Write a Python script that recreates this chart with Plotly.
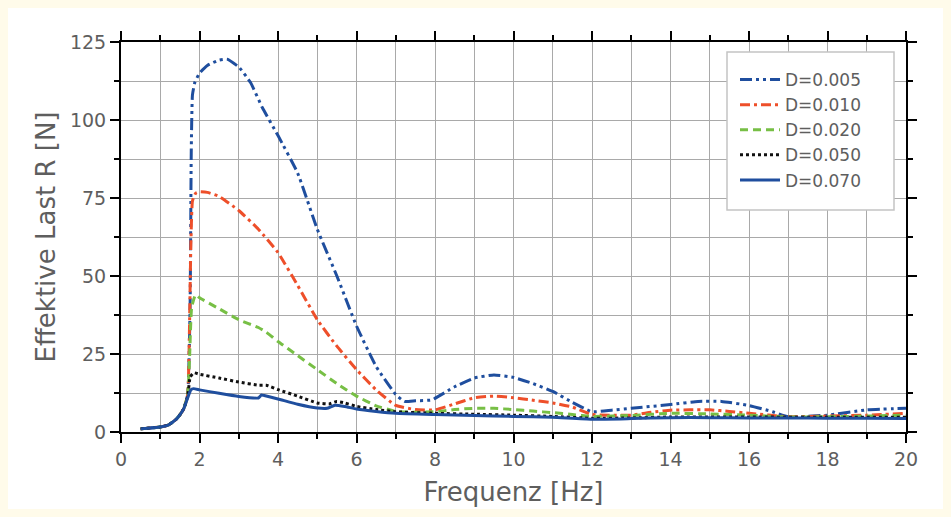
import plotly.graph_objects as go

# ---- data ----
x_005 = [0.5, 1.0, 1.2, 1.4, 1.5, 1.6, 1.7, 1.76, 1.79, 1.82, 1.88, 2.0, 2.2, 2.5, 2.7, 3.0, 3.3, 3.6, 4.0, 4.5,
         5.0, 5.5, 6.0, 6.5, 7.0, 7.22, 7.5, 7.92, 8.5, 9.0, 9.5, 10.0, 10.5, 11.0, 11.5, 12.0, 12.5, 13.0,
         14.0, 14.7, 15.3, 16.0, 16.6, 17.0, 18.0, 19.0, 20.0]
y_005 = [1.0, 1.6, 2.2, 4.0, 5.5, 7.5, 12, 40, 90, 108, 112, 115, 117.5, 119.2, 119.5, 117, 112, 104, 95, 83,
         65, 50, 34, 21, 12, 9.8, 10, 10.3, 14.5, 17.3, 18.3, 17.5, 15.5, 13, 9.5, 6.5, 7, 7.6,
         8.8, 9.8, 9.8, 8.5, 6.5, 4.9, 5.4, 7.1, 7.6]

x_010 = [0.5, 1.0, 1.2, 1.4, 1.5, 1.6, 1.7, 1.74, 1.78, 1.82, 1.9, 2.0, 2.2, 2.5, 3.0, 3.5, 4.0, 4.5, 5.0, 5.5,
         6.0, 6.5, 7.0, 7.5, 8.0, 8.5, 9.0, 9.5, 10.0, 10.5, 11.0, 11.5, 12.0, 13.0, 13.5, 14.0, 14.5, 15.0,
         15.5, 16.0, 17.0, 18.0, 19.0, 20.0]
y_010 = [1.0, 1.6, 2.2, 4.0, 5.5, 7.5, 12, 30, 60, 74, 76.5, 77, 76.8, 75.5, 71, 65, 57.5, 47, 36, 27.5,
         20, 13.5, 8.5, 7.2, 7.1, 9.0, 11.0, 11.5, 11.0, 10.2, 9.3, 8.0, 5.6, 5.4, 6.3, 7.0, 7.1, 7.1,
         6.6, 6.0, 4.9, 5.1, 5.4, 6.0]

x_020 = [0.5, 1.0, 1.2, 1.4, 1.5, 1.6, 1.7, 1.75, 1.8, 1.9, 2.0, 2.5, 3.0, 3.5, 3.7, 4.0, 4.5, 5.0, 5.5, 6.0,
         6.5, 7.0, 7.5, 8.0, 8.5, 9.0, 9.5, 10.0, 10.5, 11.0, 11.5, 12.0, 13.0, 14.0, 15.0, 16.0, 17.0, 18.0,
         19.0, 20.0]
y_020 = [1.0, 1.6, 2.2, 4.0, 5.5, 7.5, 12, 25, 40, 44, 43, 39.5, 36.0, 33.5, 32.0, 29.0, 24.5, 20.0, 15.5, 11.5,
         8.4, 6.6, 6.3, 6.5, 7.2, 7.6, 7.6, 7.2, 6.7, 6.2, 5.6, 5.0, 5.3, 6.0, 5.8, 5.4, 4.8, 4.9,
         5.1, 5.4]

x_050 = [0.5, 1.0, 1.2, 1.4, 1.5, 1.6, 1.7, 1.76, 1.85, 2.0, 2.5, 3.0, 3.5, 3.7, 4.0, 4.5, 5.0, 5.3, 5.5, 5.7,
         6.0, 6.5, 7.0, 8.0, 9.0, 10.0, 11.0, 12.0, 13.0, 14.0, 16.0, 18.0, 20.0]
y_050 = [1.0, 1.6, 2.2, 4.0, 5.5, 7.5, 11.5, 17.5, 19.0, 18.5, 17.3, 16.0, 15.0, 15.0, 13.6, 11.5, 9.3, 9.0, 9.8, 9.3,
         8.2, 7.2, 6.5, 6.0, 5.7, 5.4, 5.0, 4.4, 4.5, 4.8, 4.8, 4.7, 4.7]

x_070 = [0.5, 1.0, 1.2, 1.4, 1.5, 1.6, 1.7, 1.78, 1.85, 2.0, 2.5, 3.0, 3.5, 3.58, 3.65, 4.0, 4.5, 5.0, 5.25, 5.45,
         5.7, 6.0, 6.5, 7.0, 8.0, 9.0, 10.0, 11.0, 12.0, 13.0, 14.0, 15.0, 16.0, 17.0, 18.0, 19.0, 20.0]
y_070 = [1.0, 1.6, 2.2, 4.0, 5.5, 7.5, 11.0, 13.5, 13.9, 13.5, 12.4, 11.4, 10.9, 11.9, 11.7, 10.6, 8.9, 7.7, 7.6, 8.6,
         8.2, 7.4, 6.6, 6.0, 5.6, 5.3, 5.0, 4.7, 4.1, 4.3, 4.6, 4.6, 4.5, 4.5, 4.4, 4.4, 4.3]

series_names = ["D=0.005", "D=0.010", "D=0.020", "D=0.050", "D=0.070"]
x_ticks = [0, 2, 4, 6, 8, 10, 12, 14, 16, 18, 20]
y_ticks = [0, 25, 50, 75, 100, 125]

# ---- styles ----
styles = [
    dict(color="#1f4e9e", dash="12px,4px,3px,4px,3px,4px"),
    dict(color="#ee4f2a", dash="10px,4px,3px,4px"),
    dict(color="#77bf45", dash="8px,5px"),
    dict(color="#111111", dash="3px,3px"),
    dict(color="#1f4e9e", dash="solid"),
]
xs = [x_005, x_010, x_020, x_050, x_070]
ys = [y_005, y_010, y_020, y_050, y_070]

fig = go.Figure()
for i in range(5):
    fig.add_trace(go.Scatter(
        x=xs[i], y=ys[i], mode="lines", name=series_names[i],
        line=dict(color=styles[i]["color"], dash=styles[i]["dash"], width=3, shape="spline", smoothing=0.4),
    ))

W, H = 951, 517
L, R, T, B = 121, 45, 42, 85
pw, ph = W - L - R, H - T - B


def px2paper_x(px):
    return (px - L) / pw


def px2paper_y(py):
    return (H - B - py) / ph


txt = "#5e5e5e"
font_family = "DejaVu Sans"
cream = "#fffbea"

shapes = [
    # white inner panel on cream page
    dict(type="rect", xref="paper", yref="paper", layer="below",
         x0=px2paper_x(8), x1=px2paper_x(943), y0=px2paper_y(509), y1=px2paper_y(8),
         fillcolor="white", line=dict(width=0)),
    # legend box
    dict(type="rect", xref="paper", yref="paper", layer="above",
         x0=px2paper_x(727), x1=px2paper_x(894), y0=px2paper_y(210), y1=px2paper_y(52),
         fillcolor="white", line=dict(color="#c4c4c4", width=1.5)),
]

grid_color = "#a9a9a9"
axis_common = dict(
    showline=True, linecolor="black", linewidth=2, mirror="ticks",
    ticks="outside", tickcolor="black", tickwidth=2, ticklen=9,
    tickfont=dict(family=font_family, size=19, color=txt),
    showgrid=True, gridcolor=grid_color, gridwidth=1, zeroline=False,
)

fig.update_layout(
    width=W, height=H,
    margin=dict(l=L, r=R, t=T, b=B, autoexpand=False),
    paper_bgcolor=cream, plot_bgcolor="white",
    shapes=shapes,
    showlegend=True,
    legend=dict(x=px2paper_x(735), y=px2paper_y(62), xanchor="left", yanchor="top",
                bgcolor="rgba(0,0,0,0)", borderwidth=0,
                font=dict(family=font_family, size=17, color=txt),
                itemwidth=40, tracegroupgap=0),
    xaxis=dict(range=[0, 20], tickvals=x_ticks, title=dict(text="Frequenz [Hz]", standoff=14,
               font=dict(family=font_family, size=26, color=txt)),
               minor=dict(dtick=1, ticks="outside", ticklen=5, tickcolor="black", tickwidth=2,
                          showgrid=True, gridcolor=grid_color, gridwidth=1),
               **axis_common),
    yaxis=dict(range=[0, 125], tickvals=y_ticks, title=dict(text="Effektive Last R [N]", standoff=7,
               font=dict(family=font_family, size=26, color=txt)),
               minor=dict(dtick=12.5, ticks="outside", ticklen=5, tickcolor="black", tickwidth=2,
                          showgrid=True, gridcolor=grid_color, gridwidth=1),
               **axis_common),
)

fig.write_html("out.html",
               config={"displayModeBar": False},
               post_script="document.body.style.margin='0px';document.body.style.overflow='hidden';"
                           "document.body.style.background='" + cream + "';")
